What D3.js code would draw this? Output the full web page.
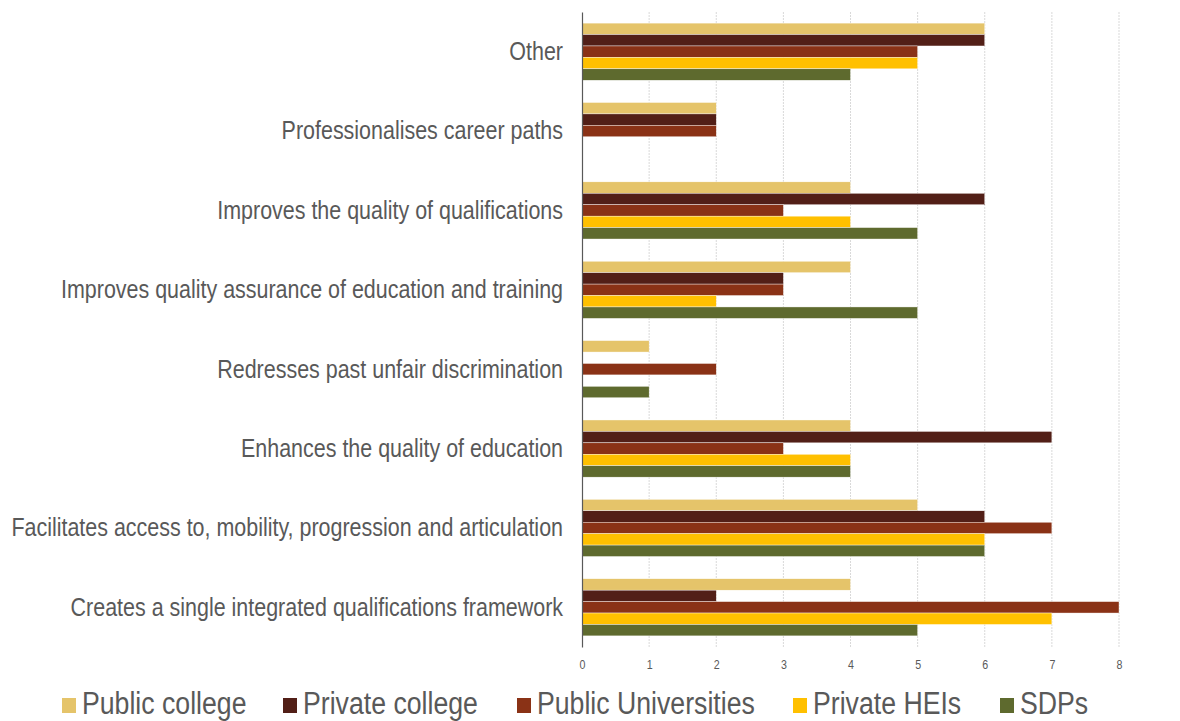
<!DOCTYPE html>
<html>
<head>
<meta charset="utf-8">
<script src="https://cdn.jsdelivr.net/npm/d3@7/dist/d3.min.js"></script>
<style>
  html, body { margin: 0; padding: 0; background: #fff; }
  svg { display: block; font-family: "Liberation Sans Narrow", "Arial Narrow", "Liberation Sans", Arial, sans-serif; }
</style>
</head>
<body>
<svg id="chart" width="1180" height="721"></svg>
<script>
// Reasons given, listed top to bottom
const categories = [
  "Other",
  "Professionalises career paths",
  "Improves the quality of qualifications",
  "Improves quality assurance of education and training",
  "Redresses past unfair discrimination",
  "Enhances the quality of education",
  "Facilitates access to, mobility, progression and articulation",
  "Creates a single integrated qualifications framework"
];

const seriesNames = ["Public college", "Private college", "Public Universities", "Private HEIs", "SDPs"];
const seriesColors = ["#E5C46A", "#521F17", "#8A3216", "#FFC000", "#5E6A2E"];

// Counts per category, in the order of `categories`
const publicCollege      = [6, 2, 4, 4, 1, 4, 5, 4];
const privateCollege     = [6, 2, 6, 3, 0, 7, 6, 2];
const publicUniversities = [5, 2, 3, 3, 2, 3, 7, 8];
const privateHEIs        = [5, 0, 4, 2, 0, 4, 6, 7];
const sdps               = [4, 0, 5, 5, 1, 4, 6, 5];

const xTicks = [0, 1, 2, 3, 4, 5, 6, 7, 8];

const seriesValues = [publicCollege, privateCollege, publicUniversities, privateHEIs, sdps];

const svg = d3.select("#chart");
const margin = { left: 582, right: 61, top: 12, bottom: 74 };
const width = 1180, height = 721;
const textColor = "#595959";

// Condense text horizontally (narrow sans look) by fixing its rendered length
function condense(sel, factor) {
  sel.each(function () {
    const len = this.getComputedTextLength();
    d3.select(this).attr("textLength", len * factor).attr("lengthAdjust", "spacingAndGlyphs");
  });
}

const x = d3.scaleLinear().domain([0, 8]).range([margin.left, width - margin.right]);
const y = d3.scaleBand().domain(categories).range([margin.top, height - margin.bottom]).paddingInner(0.28).paddingOuter(0.14);
const ySub = d3.scaleBand().domain(seriesNames).range([0, y.bandwidth()]);

// Vertical gridlines
svg.append("g")
  .selectAll("line")
  .data(xTicks.slice(1))
  .join("line")
  .attr("x1", d => x(d)).attr("x2", d => x(d))
  .attr("y1", margin.top).attr("y2", height - margin.bottom)
  .attr("stroke", "#D9D9D9")
  .attr("stroke-width", 1)
  .attr("stroke-dasharray", "2,1");

// Bars
const groups = svg.append("g")
  .selectAll("g")
  .data(categories)
  .join("g")
  .attr("transform", d => `translate(0,${y(d)})`);

groups.selectAll("rect")
  .data((c, i) => seriesNames.map((s, k) => ({ s, k, v: seriesValues[k][i] })))
  .join("rect")
  .attr("x", x(0))
  .attr("y", d => ySub(d.s))
  .attr("width", d => x(d.v) - x(0))
  .attr("height", ySub.bandwidth())
  .attr("fill", d => seriesColors[d.k])
  .attr("stroke", d => d.v > 0 ? "#ffffff" : "none")
  .attr("stroke-width", 0.4);

// Category axis
const yAxis = svg.append("g")
  .attr("transform", `translate(${x(0)},0)`)
  .call(d3.axisLeft(y).tickSize(0).tickPadding(19));
yAxis.select(".domain").attr("stroke", textColor).attr("stroke-width", 1.2);
yAxis.selectAll("text").attr("fill", textColor).attr("font-size", 26).call(condense, 0.825);

// Value axis
const xAxis = svg.append("g")
  .attr("transform", `translate(0,${height - margin.bottom})`)
  .call(d3.axisBottom(x).tickValues(xTicks).tickSize(0).tickPadding(13).tickFormat(d3.format("d")));
xAxis.select(".domain").remove();
xAxis.selectAll("text").attr("fill", textColor).attr("font-size", 13).call(condense, 0.82);

// Legend
const legendX = [62, 283, 517, 793, 1000];
const legend = svg.append("g")
  .selectAll("g")
  .data(seriesNames)
  .join("g")
  .attr("transform", (d, i) => `translate(${legendX[i]},0)`);
legend.append("rect")
  .attr("x", 0).attr("y", 698)
  .attr("width", 14).attr("height", 15)
  .attr("fill", (d, i) => seriesColors[i]);
legend.append("text")
  .attr("x", 20).attr("y", 714)
  .attr("fill", textColor)
  .attr("font-size", 31)
  .text(d => d)
  .call(condense, 0.86);
</script>
</body>
</html>
